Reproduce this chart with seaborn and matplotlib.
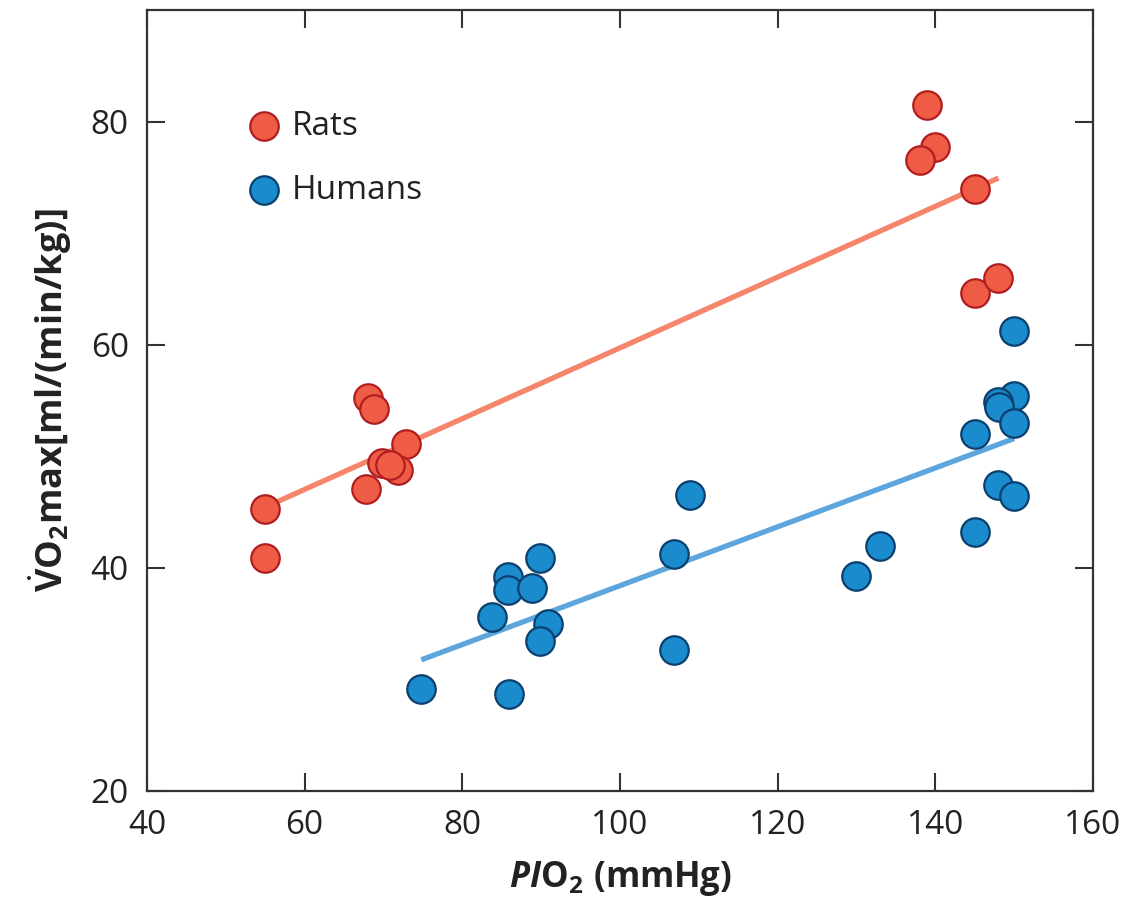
import matplotlib
matplotlib.use("Agg")
import matplotlib.pyplot as plt
import seaborn as sns
import pandas as pd

# ---- data ----
rats_x = [55, 55, 68, 68.8, 72.9, 69.8, 71.9, 70.8, 67.8, 139, 140, 138, 145, 145, 148]
rats_y = [45.3, 40.85, 55.2, 54.2, 51.1, 49.4, 48.8, 49.2, 47.1, 81.5, 77.7, 76.6, 74.0, 64.6, 66.0]

humans_x = [108.9, 89.9, 85.8, 85.8, 88.9, 83.8, 90.9, 89.9, 106.9, 106.9, 74.8, 85.9,
            150, 150, 147.9, 148.1, 150, 145, 148, 150, 145, 133, 130]
humans_y = [46.5, 40.9, 39.2, 38.0, 38.2, 35.6, 35.0, 33.4, 41.2, 32.6, 29.1, 28.7,
            61.2, 55.4, 54.9, 54.4, 53.0, 52.0, 47.4, 46.4, 43.2, 42.0, 39.3]

series_names = ["Rats", "Humans"]
x_ticks = [40, 60, 80, 100, 120, 140, 160]
y_ticks = [20, 40, 60, 80]

sns.set_theme(style="white")
plt.rcParams["font.family"] = ["Open Sans", "DejaVu Sans"]
plt.rcParams["mathtext.fontset"] = "custom"
plt.rcParams["mathtext.rm"] = "Open Sans"
plt.rcParams["mathtext.bf"] = "Open Sans:bold"
plt.rcParams["mathtext.bfit"] = "Open Sans:bold:italic"
plt.rcParams["mathtext.it"] = "Open Sans:italic"

fig = plt.figure(figsize=(11.35, 9.21), dpi=100)
ax = fig.add_axes([0.1295, 0.1412, 0.8335, 0.8478])

df_r = pd.DataFrame({"x": rats_x, "y": rats_y})
df_h = pd.DataFrame({"x": humans_x, "y": humans_y})

styles = {
    "Rats": dict(fill="#EF5C45", edge="#B01D1F", line="#F5866C"),
    "Humans": dict(fill="#1A8BCC", edge="#0B3F6E", line="#5DA5DD"),
}

handles = []
for name, df in zip(series_names, [df_r, df_h]):
    st = styles[name]
    sns.regplot(data=df, x="x", y="y", ax=ax, ci=None, truncate=True,
                scatter_kws=dict(s=420, color=st["fill"], edgecolor=st["edge"],
                                 linewidths=1.6, alpha=1, zorder=3),
                line_kws=dict(color=st["line"], lw=3.8, zorder=2,
                              solid_capstyle="butt"))
    handles.append(ax.collections[-1])

ax.set_xlim(40, 160)
ax.set_ylim(20, 90)
ax.set_xticks(x_ticks)
ax.set_yticks(y_ticks)

for s in ax.spines.values():
    s.set_visible(True)
    s.set_color("#333333")
    s.set_linewidth(1.6)

ax.tick_params(axis="both", direction="in", length=13, width=1.5, color="#333333",
               labelsize=24, labelcolor="#222222", pad=13,
               top=True, right=True, bottom=True, left=True)
for t in ax.xaxis.get_major_ticks():
    if t.get_loc() in (40, 160):
        t.tick1line.set_visible(False)
        t.tick2line.set_visible(False)
for t in ax.yaxis.get_major_ticks():
    if t.get_loc() in (20,):
        t.tick1line.set_visible(False)
        t.tick2line.set_visible(False)

ax.set_xlabel(r"$\mathbfit{PI}\mathbf{O_2\ (mmHg)}$", fontsize=25, color="#222222", labelpad=12)
ax.set_ylabel(r"$\mathbf{\dot{V}O_2max[ml/(min/kg)]}$", fontsize=26, color="#222222", labelpad=12)

leg = ax.legend(handles, series_names, loc="upper left", bbox_to_anchor=(0.0915, 0.889),
                frameon=False, fontsize=24, handletextpad=0.35, labelspacing=0.92,
                borderaxespad=0, handlelength=1.0, labelcolor="#222222",
                scatterpoints=1)

fig.savefig("out.png", dpi=100)
